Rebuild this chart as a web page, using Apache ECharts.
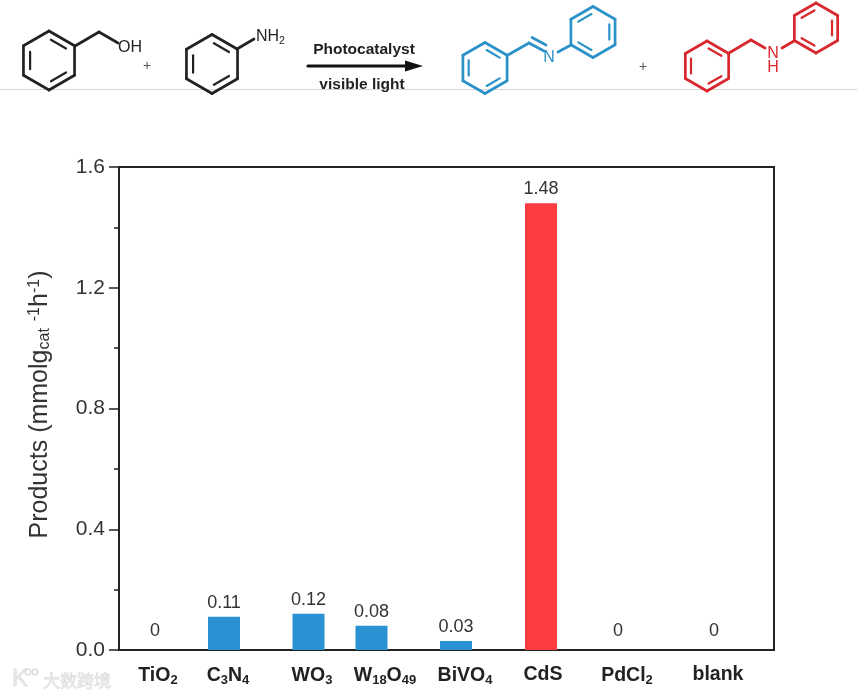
<!DOCTYPE html>
<html><head><meta charset="utf-8">
<style>html,body{margin:0;padding:0;background:#fff}#c{width:857px;height:696px}</style>
<script src="https://cdn.jsdelivr.net/npm/echarts@6/dist/echarts.min.js"></script>
</head><body><div id="c"></div>
<script>
const catalysts = ['TiO2','C3N4','WO3','W18O49','BiVO4','CdS','PdCl2','blank'];
const catalystLabels = ['TiO{s|2}','C{s|3}N{s|4}','WO{s|3}','W{s|18}O{s|49}','BiVO{s|4}','CdS','PdCl{s|2}','blank'];
const products = [0, 0.11, 0.12, 0.08, 0.03, 1.48, 0, 0];
const barSlots = [36, 105, 189.5, 252.5, 337, 422, 499, 595];
const labelSlots = [39, 109, 193, 266, 346, 424, 508, 599];
const yTicks = [0, 1.6, 0.4];
const BLUE = '#2a92d2', RED = '#fc3c40', INK = '#222', BLUEINK = '#2a92c8', REDINK = '#d8282e';
const SANS = '"Liberation Sans", Arial, sans-serif';

const gfx = [];
// separator goes first so the structures sit on top of it
gfx.push({type:'line',shape:{x1:0,y1:89.5,x2:857,y2:89.5},style:{stroke:'#d6d6d6',lineWidth:1},silent:true});
function seg(x1,y1,x2,y2,color,w){ gfx.push({type:'line',shape:{x1,y1,x2,y2},style:{stroke:color,lineWidth:w||2.7,lineCap:'round'},silent:true}); }
function txt(x,y,t,opt){ gfx.push({type:'text',x,y,style:Object.assign({text:t,fontFamily:SANS,fontSize:16,fill:INK,align:'center',verticalAlign:'middle'},opt||{}),silent:true}); }
function ring(cx,cy,r,color,firstDouble){
  const v=[]; for(let i=0;i<6;i++){const a=(-90+60*i)*Math.PI/180; v.push([cx+r*Math.cos(a),cy+r*Math.sin(a)]);}
  for(let i=0;i<6;i++){const p=v[i],q=v[(i+1)%6]; seg(p[0],p[1],q[0],q[1],color);
    if((i+firstDouble)%2===0){const k=.74,t=.1;
      const ip=[cx+(p[0]-cx)*k,cy+(p[1]-cy)*k], iq=[cx+(q[0]-cx)*k,cy+(q[1]-cy)*k];
      seg(ip[0]+(iq[0]-ip[0])*t,ip[1]+(iq[1]-ip[1])*t,iq[0]-(iq[0]-ip[0])*t,iq[1]-(iq[1]-ip[1])*t,color,2.2);}
  }
}
// reactants
ring(49,60.5,29.5,INK,0); seg(75,46,99,32,INK); seg(99,32,118,43,INK); txt(130,47.5,'OH');
txt(147,66,'+',{fontSize:14,fill:'#555'});
ring(212,64,29.5,INK,0); seg(237,49,254,39,INK);
gfx.push({type:'text',x:256,y:37,style:{text:'NH{s|2}',fontFamily:SANS,fontSize:16,fill:INK,verticalAlign:'middle',rich:{s:{fontSize:10.5,verticalAlign:'bottom',padding:[8,0,0,0],fontFamily:SANS,fill:INK}}},silent:true});
// arrow
txt(364,50,'Photocatalyst',{fontSize:15.5,fontWeight:'bold'});
seg(308,66,408,66,'#111',3.2);
gfx.push({type:'polygon',shape:{points:[[405,60.5],[423,66],[405,71.5]]},style:{fill:'#111'},silent:true});
txt(362,85,'visible light',{fontSize:15.5,fontWeight:'bold'});
// blue product
ring(485,68,25.5,BLUEINK,0); seg(507,55.5,529,43,BLUEINK); seg(529,43,544,51,BLUEINK); seg(532,37.5,546,45,BLUEINK);
txt(549,58,'N',{fill:BLUEINK,fontSize:16}); seg(558,52,571,45,BLUEINK);
ring(593,32,25.5,BLUEINK,1);
txt(643,67,'+',{fontSize:14,fill:'#555'});
// red product
ring(707,66,25,REDINK,0); seg(729,53,751,40,REDINK); seg(751,40,765,48,REDINK);
txt(773,54,'N',{fill:REDINK,fontSize:16}); txt(773,68,'H',{fill:REDINK,fontSize:16}); seg(782,48,794,41,REDINK);
ring(816,28,25,REDINK,1);
// watermark
txt(77,681,'大数跨境',{fontFamily:'"Noto Sans CJK SC"',fontSize:17,fill:'#e6e6e6',stroke:'#c4c4c4',lineWidth:.4});
txt(20,679,'K',{fontSize:24,fill:'#e6e6e6',stroke:'#c4c4c4',lineWidth:.4});
gfx.push({type:'circle',shape:{cx:28,cy:672,r:3},style:{fill:'none',stroke:'#c8c8c8',lineWidth:1},silent:true});
gfx.push({type:'circle',shape:{cx:35,cy:672,r:3},style:{fill:'none',stroke:'#c8c8c8',lineWidth:1},silent:true});

const labelBySlot = new Map(labelSlots.map((s,i)=>[s,catalystLabels[i]]));
const seriesData = products.map((v,i)=>({
  value:[barSlots[i],v],
  itemStyle:{color: catalysts[i]==='CdS' ? RED : BLUE},
  label:{distance: v===0 ? 10 : 5}
}));
const chart = echarts.init(document.getElementById('c'),null,{renderer:'canvas'});
chart.setOption({
  animation:false,
  backgroundColor:'#fff',
  textStyle:{fontFamily:SANS},
  grid:{left:119,top:167,width:655,height:483,show:true,borderColor:INK,borderWidth:2,backgroundColor:'transparent'},
  xAxis:{type:'value',min:0,max:655,splitLine:{show:false},axisTick:{show:false},
    axisLine:{show:true,onZero:true,lineStyle:{color:INK,width:2}},
    axisLabel:{customValues:labelSlots,margin:15,fontFamily:SANS,fontSize:19.5,fontWeight:'bold',color:'#222',
      formatter:v=>labelBySlot.get(v)||'',
      rich:{s:{fontFamily:SANS,fontSize:13,fontWeight:'bold',color:'#222',verticalAlign:'bottom',padding:[9,0,0,0]}}}},
  yAxis:{type:'value',min:yTicks[0],max:yTicks[1],interval:yTicks[2],
    splitLine:{show:false},
    axisLine:{show:true,lineStyle:{color:INK,width:2}},
    axisTick:{show:true,length:10,lineStyle:{color:INK,width:1.5}},
    minorTick:{show:true,splitNumber:2,length:5,lineStyle:{color:INK,width:1.5}},
    minorSplitLine:{show:false},
    axisLabel:{margin:14,fontFamily:SANS,fontSize:21,color:'#333',formatter:v=>v.toFixed(1)},
    name:'Products (mmolg{s|cat} {u|-1}h{u|-1})',nameLocation:'middle',nameRotate:90,nameGap:66,
    nameTextStyle:{fontFamily:SANS,fontSize:25,color:'#333',padding:[0,0,0,8],
      rich:{s:{fontFamily:SANS,fontSize:16,color:'#333',verticalAlign:'bottom',padding:[10,0,0,0]},
            u:{fontFamily:SANS,fontSize:16,color:'#333',verticalAlign:'top',padding:[0,0,10,0]}}}},
  series:[{type:'bar',barWidth:32,data:seriesData,encode:{x:0,y:1},
    label:{show:true,position:'top',fontFamily:SANS,fontSize:18,color:'#333',
      formatter:p=>String(p.value[1])}}],
  graphic:gfx
});
</script></body></html>
